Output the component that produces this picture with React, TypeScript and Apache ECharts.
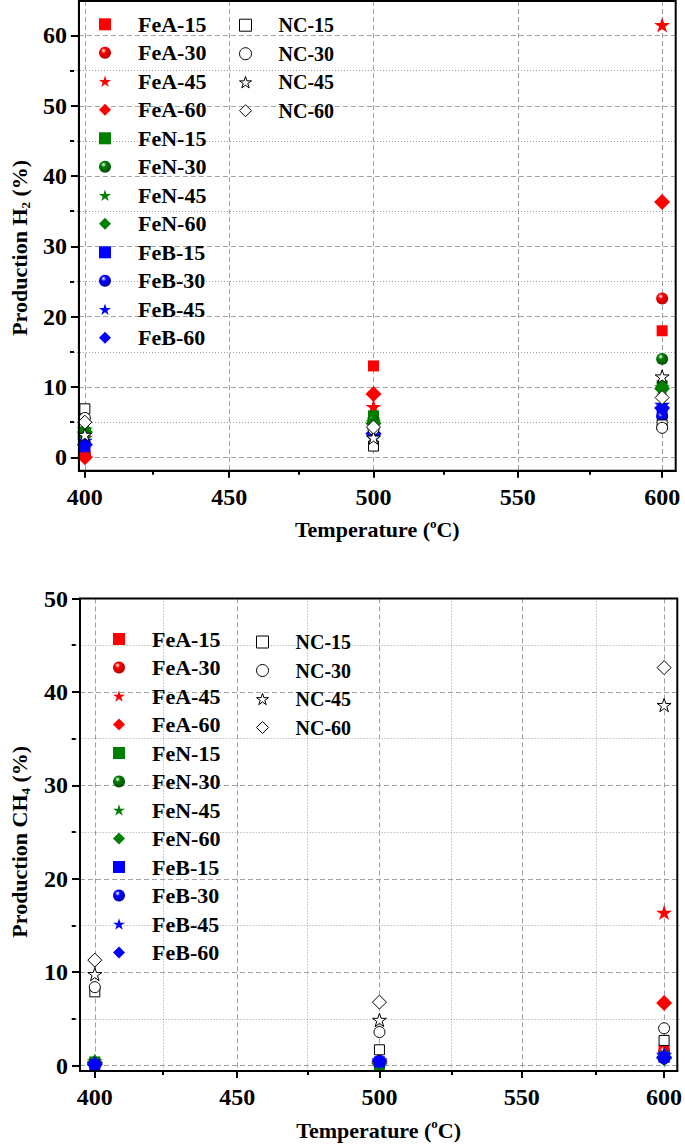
import React, { useEffect, useRef } from 'react';
import * as echarts from 'echarts';

// ---------- data ----------
const TEMPS = [400, 500, 600];
const FE_NAMES = ['FeA-15', 'FeA-30', 'FeA-45', 'FeA-60', 'FeN-15', 'FeN-30', 'FeN-45', 'FeN-60', 'FeB-15', 'FeB-30', 'FeB-45', 'FeB-60'];
const NC_NAMES = ['NC-15', 'NC-30', 'NC-45', 'NC-60'];

// H2 production (%) at 400, 500, 600 °C; rows = 15, 30, 45, 60
const H2_FEA = [[1.0, 13.0, 18.0], [0.5, 5.5, 22.6], [2.8, 7.2, 61.5], [0.0, 9.0, 36.3]];
const H2_FEN = [[3.5, 5.9, 10.2], [3.8, 5.2, 14.0], [4.0, 5.0, 10.0], [3.6, 4.8, 9.8]];
const H2_FEB = [[1.5, 3.5, 6.5], [2.0, 3.2, 5.8], [2.4, 3.0, 7.5], [1.8, 3.4, 7.0]];
const H2_NC = [[6.9, 1.6, 4.6], [5.6, 4.0, 4.2], [3.2, 2.8, 11.5], [5.0, 4.3, 8.5]];

// CH4 production (%) at 400, 500, 600 °C
const CH4_FEA = [[0.3, 0.3, 1.7], [0.2, 0.4, 1.5], [0.3, 0.5, 16.4], [0.2, 0.3, 6.7]];
const CH4_FEN = [[0.4, 0.1, 1.0], [0.3, 0.2, 0.9], [0.5, 0.1, 1.1], [0.3, 0.2, 0.8]];
const CH4_FEB = [[0.1, 0.4, 0.9], [0.1, 0.5, 0.8], [0.2, 0.6, 1.2], [0.1, 0.5, 0.9]];
const CH4_NC = [[7.9, 1.7, 2.7], [8.4, 3.6, 4.0], [9.8, 4.9, 38.6], [11.3, 6.8, 42.6]];

// ticks
const X_MAJOR = [400, 450, 500, 550, 600];
const X_MINOR = [425, 475, 525, 575];
const H2_Y_MAJOR = [0, 10, 20, 30, 40, 50, 60];
const H2_Y_MINOR = [5, 15, 25, 35, 45, 55];
const CH4_Y_MAJOR = [0, 10, 20, 30, 40, 50];
const CH4_Y_MINOR = [5, 15, 25, 35, 45];

// ---------- styles ----------
const FONT = '"Liberation Serif", "Times New Roman", serif';
const STAR = 'path://M50,0L61.23,34.55L97.55,34.55L68.17,55.9L79.39,90.45L50,69.1L20.61,90.45L31.83,55.9L2.45,34.55L38.77,34.55Z';
const SHAPES = ['rect', 'circle', STAR, 'diamond'];
const FE_SIZES = [11, 12, 16, 16];
const NC_SIZES = [10, 11, 14, 14];
const FAMILY_COLORS = [
  { base: '#ff0000', dark: '#b00000' },
  { base: '#008000', dark: '#004a00' },
  { base: '#0000ff', dark: '#0000a8' },
];

function sphere(base: string, dark: string) {
  return {
    type: 'radial', x: 0.38, y: 0.32, r: 0.72,
    colorStops: [
      { offset: 0, color: '#ffffff' },
      { offset: 0.3, color: base },
      { offset: 1, color: dark },
    ],
  };
}

function buildSeries(fe: number[][][], nc: number[][], xi: number, yi: number) {
  const out: any[] = [];
  fe.forEach((fam, f) => {
    fam.forEach((vals, d) => {
      const c = FAMILY_COLORS[f];
      out.push({
        type: 'scatter',
        name: FE_NAMES[f * 4 + d],
        xAxisIndex: xi,
        yAxisIndex: yi,
        symbol: SHAPES[d],
        symbolSize: FE_SIZES[d],
        symbolKeepAspect: true,
        itemStyle: { color: d === 1 ? sphere(c.base, c.dark) : c.base, opacity: 1 },
        data: TEMPS.map((t, i) => [t, vals[i]]),
        emphasis: { disabled: true },
      });
    });
  });
  nc.forEach((vals, d) => {
    out.push({
      type: 'scatter',
      name: NC_NAMES[d],
      xAxisIndex: xi,
      yAxisIndex: yi,
      symbol: SHAPES[d],
      symbolSize: NC_SIZES[d],
      symbolKeepAspect: true,
      itemStyle: { color: '#ffffff', borderColor: '#000000', borderWidth: 1, opacity: 1 },
      data: TEMPS.map((t, i) => [t, vals[i]]),
      emphasis: { disabled: true },
    });
  });
  return out;
}

const labelFont = { fontFamily: FONT, fontWeight: 'bold', fontSize: 24, color: '#000' };
const nameRich = {
  a: { fontFamily: FONT, fontWeight: 'bold', fontSize: 22, color: '#000', lineHeight: 26 },
  sup: { fontFamily: FONT, fontWeight: 'bold', fontSize: 13, color: '#000', lineHeight: 13, verticalAlign: 'top' },
  sub: { fontFamily: FONT, fontWeight: 'bold', fontSize: 13, color: '#000', lineHeight: 13, verticalAlign: 'bottom' },
};

function majorX(gridIndex: number, min: number, max: number) {
  return {
    type: 'value', gridIndex, min, max, position: 'bottom',
    axisLine: { show: true, onZero: false, lineStyle: { color: '#000', width: 2 } },
    axisTick: { show: true, inside: false, length: 7, lineStyle: { color: '#000', width: 2 }, customValues: X_MAJOR },
    axisLabel: { show: true, customValues: X_MAJOR, margin: 14, ...labelFont },
    splitLine: { show: true, lineStyle: { color: '#a0a0a0', type: [5, 3], width: 1 } },
    name: '{a|Temperature (}{sup|o}{a|C)}',
    nameLocation: 'middle', nameGap: 46,
    nameTextStyle: { rich: nameRich },
  };
}
function minorX(gridIndex: number, min: number, max: number, grid: boolean) {
  return {
    type: 'value', gridIndex, min, max, position: 'bottom',
    axisLine: { show: false, onZero: false },
    axisTick: { show: true, inside: false, length: 4, lineStyle: { color: '#000', width: 2 }, customValues: X_MINOR },
    axisLabel: { show: false },
    splitLine: { show: grid, lineStyle: { color: '#a0a0a0', type: [1, 2], width: 1 } },
  };
}
function majorY(gridIndex: number, min: number, max: number, ticks: number[], name: string, gap: number, shiftDown: number) {
  return {
    type: 'value', gridIndex, min, max, position: 'left',
    axisLine: { show: true, onZero: false, lineStyle: { color: '#000', width: 2 } },
    axisTick: { show: true, inside: false, length: 8, lineStyle: { color: '#000', width: 2 }, customValues: ticks },
    axisLabel: { show: true, customValues: ticks, margin: 12, ...labelFont },
    splitLine: { show: true, lineStyle: { color: '#a0a0a0', type: [5, 3], width: 1 } },
    name, nameLocation: 'middle', nameGap: gap,
    nameTextStyle: { rich: nameRich, padding: [0, shiftDown * 2, 0, 0] },
  };
}
function minorY(gridIndex: number, min: number, max: number, ticks: number[]) {
  return {
    type: 'value', gridIndex, min, max, position: 'left',
    axisLine: { show: false, onZero: false },
    axisTick: { show: true, inside: false, length: 4, lineStyle: { color: '#000', width: 2 }, customValues: ticks },
    axisLabel: { show: false },
    splitLine: { show: true, lineStyle: { color: '#a0a0a0', type: [1, 2], width: 1 } },
  };
}

function legend(names: string[], left: number, top: number, gap: number, size: number, border: boolean, pad: number) {
  return {
    orient: 'vertical', left, top, padding: 0,
    itemWidth: 12, itemHeight: 12, itemGap: gap,
    selectedMode: false,
    data: names,
    itemStyle: border ? { borderColor: '#000', borderWidth: 1 } : {},
    textStyle: { fontFamily: FONT, fontWeight: 'bold', fontSize: size, color: '#000', lineHeight: 20, padding: [0, 0, 0, pad] },
  };
}

const TOP_RECT = { left: 74, top: 1, width: 601.7, height: 469.7 };
const BOT_RECT = { left: 75.7, top: 598.5, width: 606, height: 472.5 };

export default function App() {
  const ref = useRef<HTMLDivElement>(null);
  useEffect(() => {
    if (!ref.current) return;
    const chart = echarts.init(ref.current, null, { renderer: 'svg' });
    const option: any = {
      animation: false,
      backgroundColor: '#ffffff',
      grid: [
        { ...TOP_RECT, show: true, borderColor: '#000', borderWidth: 2, backgroundColor: 'transparent', z: 3 },
        { ...BOT_RECT, show: true, borderColor: '#000', borderWidth: 2, backgroundColor: 'transparent', z: 3 },
        { ...TOP_RECT, show: false },
        { ...BOT_RECT, show: false },
      ],
      xAxis: [
        majorX(0, 397.94, 604.7),
        majorX(1, 394.8, 604.64),
        minorX(2, 397.94, 604.7, false),
        minorX(3, 394.8, 604.64, true),
      ],
      yAxis: [
        majorY(0, -1.9, 64.9, H2_Y_MAJOR, '{a|Production H}{sub|2}{a| (%)}', 44, 12),
        majorY(1, -0.57, 50, CH4_Y_MAJOR, '{a|Production CH}{sub|4}{a| (%)}', 48, 7),
        minorY(2, -1.9, 64.9, H2_Y_MINOR),
        minorY(3, -0.57, 50, CH4_Y_MINOR),
      ],
      legend: [
        legend(FE_NAMES, 99, 13.3, 6.5, 22, false, 22),
        legend(NC_NAMES, 239, 15.2, 8.5, 20, true, 22),
        legend(FE_NAMES, 113, 628, 6.5, 22, false, 22),
        legend(NC_NAMES, 256, 632, 8.5, 20, true, 22),
      ],
      series: [
        ...buildSeries([H2_FEA, H2_FEN, H2_FEB], H2_NC, 0, 0),
        ...buildSeries([CH4_FEA, CH4_FEN, CH4_FEB], CH4_NC, 1, 1),
      ],
    };
    chart.setOption(option);
    return () => chart.dispose();
  }, []);
  return <div ref={ref} style={{ position: 'absolute', left: 0, top: 0, width: 685, height: 1144 }} />;
}
